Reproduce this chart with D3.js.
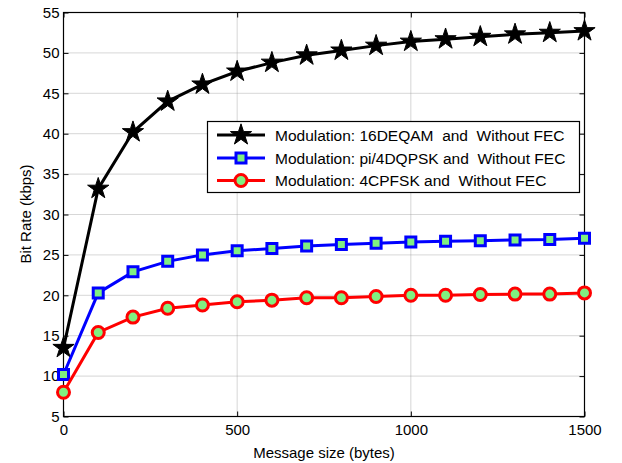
<!DOCTYPE html>
<html><head><meta charset="utf-8">
<script src="https://cdn.jsdelivr.net/npm/d3@7"></script>
<style>body{margin:0;background:#fff}text{font-family:"Liberation Sans",Arial,sans-serif}</style>
</head><body><svg id="c" width="622" height="463"></svg>
<script>
const sizes=[0,100,200,300,400,500,600,700,800,900,1000,1100,1200,1300,1400,1500];
const qam16=[13.5,33.2,40.2,44.0,46.1,47.7,48.8,49.7,50.3,50.9,51.4,51.7,52.0,52.3,52.5,52.7];
const dqpsk=[10.2,20.3,22.9,24.2,25.0,25.5,25.8,26.1,26.3,26.45,26.6,26.7,26.75,26.85,26.9,27.05];
const cpfsk=[8.0,15.4,17.3,18.4,18.8,19.2,19.4,19.7,19.7,19.85,20.0,20.0,20.1,20.15,20.15,20.3];
const xTicks=[0,500,1000,1500];
const yTicks=[5,10,15,20,25,30,35,40,45,50,55];
const labels=["Modulation: 16DEQAM  and  Without FEC","Modulation: pi/4DQPSK and  Without FEC","Modulation: 4CPFSK and  Without FEC"];

const svg=d3.select("#c");
const L=63.5,R=584.5,T=12.5,B=416.5;
const FS=15;
const x=d3.scaleLinear().domain([0,1500]).range([L,R]);
const y=d3.scaleLinear().domain([5,55]).range([B,T]);
const g=svg.append("g");
// grid
g.selectAll(".gx").data(xTicks.slice(1,-1)).join("line").attr("x1",d=>x(d)).attr("x2",d=>x(d)).attr("y1",T).attr("y2",B).attr("stroke","#999").attr("stroke-width",0.8).attr("stroke-dasharray","1,1");
g.selectAll(".gy").data(yTicks.slice(1,-1)).join("line").attr("y1",d=>y(d)).attr("y2",d=>y(d)).attr("x1",L).attr("x2",R).attr("stroke","#999").attr("stroke-width",0.8).attr("stroke-dasharray","1,1");
// axes
const ax=d3.axisBottom(x).tickValues(xTicks).tickSize(-5).tickPadding(8).tickFormat(d3.format("d"));
const ay=d3.axisLeft(y).tickValues(yTicks).tickSize(-5).tickPadding(4).tickFormat(d3.format("d"));
const axT=d3.axisTop(x).tickValues(xTicks).tickSize(-5).tickFormat("");
const ayR=d3.axisRight(y).tickValues(yTicks).tickSize(-5).tickFormat("");
function sty(s){s.attr("font-size",FS).attr("font-family","Liberation Sans, Arial, sans-serif");s.select(".domain").remove();s.selectAll("line").attr("stroke","#000");s.selectAll("text").attr("fill","#000");}
svg.append("g").attr("transform",`translate(0,${B})`).call(ax).call(sty);
svg.append("g").attr("transform",`translate(${L},0)`).call(ay).call(sty);
svg.append("g").attr("transform",`translate(0,${T})`).call(axT).call(sty);
svg.append("g").attr("transform",`translate(${R},0)`).call(ayR).call(sty);
svg.append("rect").attr("x",L).attr("y",T).attr("width",R-L).attr("height",B-T).attr("fill","none").attr("stroke","#000").attr("stroke-width",1.2);
// labels
svg.append("text").attr("x",(L+R)/2).attr("y",458).attr("text-anchor","middle").attr("font-size",FS).text("Message size (bytes)");
svg.append("text").attr("transform",`translate(31,${214}) rotate(-90)`).attr("text-anchor","middle").attr("font-size",FS).text("Bit Rate (kbps)");

const star=d3.symbol().type(d3.symbolStar).size(140);
const sq=d3.symbol().type(d3.symbolSquare).size(100);
const series=[{v:qam16,c:"#000"},{v:dqpsk,c:"#0000ff"},{v:cpfsk,c:"#ff0000"}];
const line=d3.line().x((d,i)=>x(sizes[i])).y(d=>y(d));
const fillG="#80f080";
function marker(sel,k){
  if(k===0) sel.append("path").attr("d",star).attr("fill","#000").attr("stroke","#000").attr("stroke-width",1);
  else if(k===1) sel.append("path").attr("d",sq).attr("fill",fillG).attr("stroke","#0000ff").attr("stroke-width",3);
  else sel.append("circle").attr("r",6).attr("fill",fillG).attr("stroke","#ff0000").attr("stroke-width",3);
}
series.forEach((s,k)=>{
  svg.append("path").datum(s.v).attr("d",line).attr("fill","none").attr("stroke",s.c).attr("stroke-width",3);
  s.v.forEach((v,i)=>{const m=svg.append("g").attr("transform",`translate(${x(sizes[i])},${y(v)})`);marker(m,k);});
});
// legend
const lg=svg.append("g");
lg.append("rect").attr("x",207.5).attr("y",121.5).attr("width",372).attr("height",71).attr("fill","#fff").attr("stroke","#000").attr("stroke-width",1.2);
const rows=[135,158,180.5];
labels.forEach((t,k)=>{
  lg.append("line").attr("x1",217).attr("x2",265).attr("y1",rows[k]).attr("y2",rows[k]).attr("stroke",series[k].c).attr("stroke-width",3);
  const m=lg.append("g").attr("transform",`translate(241,${rows[k]})`);marker(m,k);
  lg.append("text").attr("x",275).attr("y",rows[k]+5.5).attr("font-size",15.5).style("white-space","pre").text(t);
});
</script></body></html>
